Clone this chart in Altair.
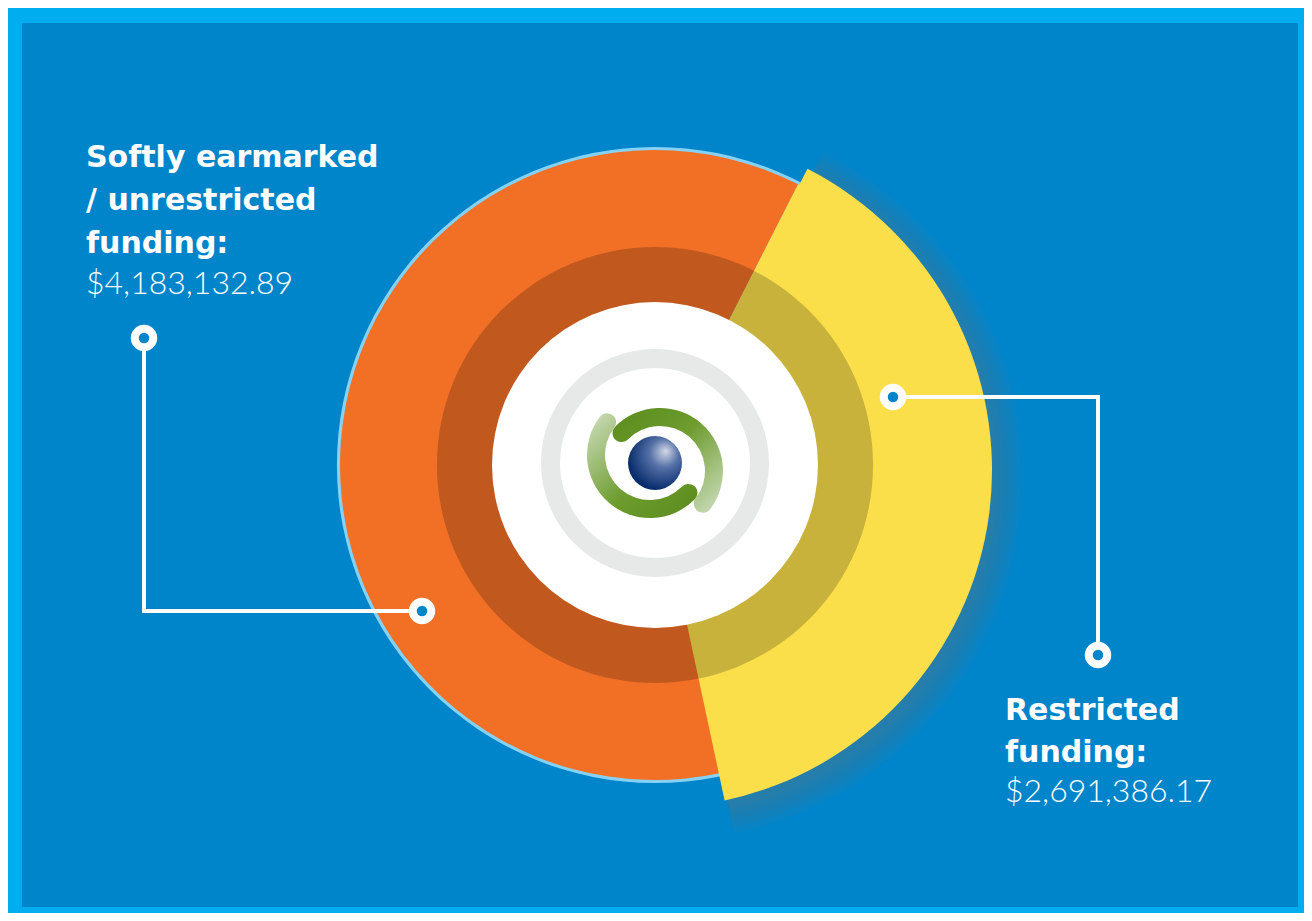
import math
import altair as alt
import pandas as pd

# ---------------- data ----------------
categories = ["Restricted funding", "Softly earmarked / unrestricted funding"]
amounts = [2691386.17, 4183132.89]
label_lines = [["Restricted", "funding:"], ["Softly earmarked", "/ unrestricted", "funding:"]]
amount_labels = ["$" + f"{v:,.2f}" for v in amounts]

df = pd.DataFrame({"category": categories, "amount": amounts, "rank": [0, 1]})
one = pd.DataFrame({"k": [0]})

# ---------------- style ----------------
W, H = 1296, 905
CX, CY = 647, 457          # donut centre (chart coords)
AX, AY = 646, 462          # apex of the pulled-out wedge
LIGHT_BLUE = "#00AEEF"
BLUE = "#0085CA"
ORANGE = "#F26F26"
YELLOW = "#FBDF4A"
START = math.radians(27.0)
TWO_PI = 2 * math.pi
D = math.radians

is_restricted = f"datum.category == '{categories[0]}'"
theta = alt.Theta("amount:Q", stack=True, scale=alt.Scale(range=[START, START + TWO_PI]))
order = alt.Order("rank:Q")


def ring(outer, inner, color_r, color_s, op_r=1.0, op_s=1.0, cx=CX, cy=CY):
    return alt.Chart(df).mark_arc(strokeWidth=0).encode(
        theta=theta,
        order=order,
        radius=alt.value(outer),
        radius2=alt.value(inner),
        x=alt.value(cx),
        y=alt.value(cy),
        fill=alt.condition(is_restricted, alt.value(color_r), alt.value(color_s)),
        opacity=alt.condition(is_restricted, alt.value(op_r), alt.value(op_s)),
    )


def full_circle(outer, inner, fill, cx=CX, cy=CY, opacity=1.0):
    return alt.Chart(one).mark_arc(fill=fill, strokeWidth=0, opacity=opacity).encode(
        theta=alt.value(0), theta2=alt.value(TWO_PI),
        radius=alt.value(outer), radius2=alt.value(inner),
        x=alt.value(cx), y=alt.value(cy),
    )


bg = alt.Chart(one).mark_rect(color=BLUE).encode(
    x=alt.value(14), x2=alt.value(1290), y=alt.value(15), y2=alt.value(899)
)

shadows = [ring(r, 200, "#786e6e", "#786e6e", 0.08, 0.0, cx=AX + 4, cy=AY + 7) for r in (340, 346, 352, 358, 364)]
outline = full_circle(318, 0, "#86D2F4")
base_ring = ring(315, 0, YELLOW, ORANGE)
wedge = ring(338, 0, YELLOW, YELLOW, 1.0, 0.0, cx=AX, cy=AY)
dark_overlay = full_circle(218, 0, "black", opacity=0.2)
white = full_circle(163, 0, "white")

SX, SY = 647, 455  # logo centre
grey_ring = full_circle(114, 95, "#E7E9E9", SX, SY)


def grad(x1, y1, x2, y2):
    return alt.LinearGradient(
        gradient="linear",
        stops=[alt.GradientStop(color="#5A8B1B", offset=0),
               alt.GradientStop(color="#6E9C2F", offset=0.45),
               alt.GradientStop(color="#D0E0C2", offset=1)],
        x1=x1, y1=y1, x2=x2, y2=y2,
    )


def seg(a0, a1, outer, inner, fill, cx, cy):
    return alt.Chart(one).mark_arc(fill=fill, cornerRadius=(outer - inner) / 2, strokeWidth=0).encode(
        theta=alt.value(D(a0)), theta2=alt.value(D(a1)),
        radius=alt.value(outer), radius2=alt.value(inner),
        x=alt.value(cx), y=alt.value(cy),
    )


logo = [
    seg(305, 497, 63, 45, grad(0, 0, 1, 1), SX + 5, SY + 8),
    seg(125, 317, 63, 45, grad(1, 1, 0, 0), SX - 5, SY - 8),
]

sphere_grad = alt.RadialGradient(
    gradient="radial",
    stops=[alt.GradientStop(color="#D3D8E6", offset=0),
           alt.GradientStop(color="#5470A6", offset=0.35),
           alt.GradientStop(color="#0B2F6E", offset=0.8),
           alt.GradientStop(color="#062866", offset=1)],
    x1=0.7, y1=0.28, r1=0, x2=0.62, y2=0.38, r2=0.78,
)
sphere = alt.Chart(one).mark_arc(fill=sphere_grad, strokeWidth=0).encode(
    theta=alt.value(0), theta2=alt.value(TWO_PI),
    radius=alt.value(27), radius2=alt.value(0), x=alt.value(SX), y=alt.value(SY),
)


def rule(x1, y1, x2, y2):
    return alt.Chart(one).mark_rule(color="white", strokeWidth=4, strokeCap="square").encode(
        x=alt.value(x1), y=alt.value(y1), x2=alt.value(x2), y2=alt.value(y2)
    )


def dot(x, y):
    outer = alt.Chart(one).mark_point(shape="circle", filled=True, size=700, color="white", opacity=1).encode(
        x=alt.value(x), y=alt.value(y))
    inner = alt.Chart(one).mark_point(shape="circle", filled=True, size=110, color=BLUE, opacity=1).encode(
        x=alt.value(x), y=alt.value(y))
    return [outer, inner]


lines = [
    rule(136, 330, 136, 603), rule(136, 603, 414, 603),
    rule(885, 389, 1090, 389), rule(1090, 389, 1090, 647),
]
dots = dot(136, 330) + dot(414, 603) + dot(885, 389) + dot(1090, 647)


def label(lines_, amount, x, y, lh):
    head = alt.Chart(one).mark_text(
        text=lines_, font="DejaVu Sans", fontWeight="bold", fontSize=30, color="white",
        align="left", baseline="alphabetic", lineHeight=lh,
    ).encode(x=alt.value(x), y=alt.value(y))
    val = alt.Chart(one).mark_text(
        text=amount, font="Lato", fontWeight=300, fontSize=32, color="white",
        align="left", baseline="alphabetic",
    ).encode(x=alt.value(x), y=alt.value(y + lh * len(lines_) - 2))
    return [head, val]


texts = label(label_lines[1], amount_labels[1], 78, 159, 43) + label(label_lines[0], amount_labels[0], 997, 712, 42)

chart = alt.layer(
    bg, *shadows, outline, base_ring, wedge, dark_overlay, white,
    grey_ring, *logo, sphere, *lines, *dots, *texts,
).properties(
    width=W, height=H, background=LIGHT_BLUE, padding=0, autosize="none"
).configure_view(stroke=None)

chart.save("out.html", embed_options={"renderer": "svg", "actions": False})
